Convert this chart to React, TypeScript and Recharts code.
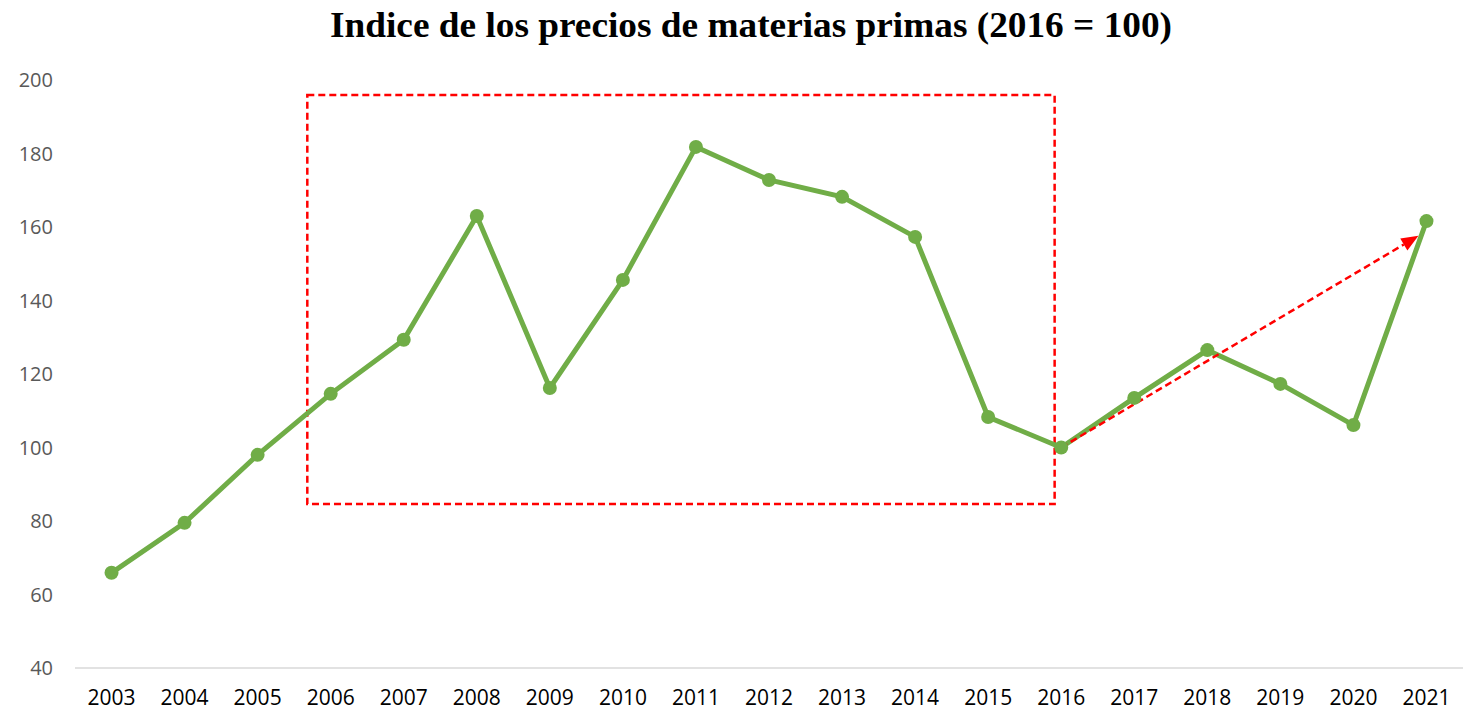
import React from 'react';
import { LineChart, Line, XAxis, YAxis, ReferenceArea, ReferenceLine } from 'recharts';

const years = [2003, 2004, 2005, 2006, 2007, 2008, 2009, 2010, 2011, 2012, 2013, 2014, 2015, 2016, 2017, 2018, 2019, 2020, 2021];
const indexValues = [65.9, 79.5, 98, 114.6, 129.3, 163, 116.2, 145.6, 181.8, 172.8, 168.2, 157.3, 108.3, 100, 113.5, 126.5, 117.3, 106.1, 161.6];
const yTicks = [40, 60, 80, 100, 120, 140, 160, 180, 200];
const boxX = [2005.68, 2015.91];
const boxY = [84.6, 195.9];
const arrowX = [2016, 2020.89];
const arrowY = [100, 157.6];

const title = 'Indice de los precios de materias primas (2016 = 100)';

const data = years.map((y, i) => ({ year: y, value: indexValues[i] }));

const ArrowShape = (props: any) => {
  const { x1, y1, x2, y2 } = props;
  if ([x1, y1, x2, y2].some((v) => v == null || isNaN(v))) return null;
  const ang = Math.atan2(y2 - y1, x2 - x1);
  const len = 17;
  const half = 7;
  const bx = x2 - len * Math.cos(ang);
  const by = y2 - len * Math.sin(ang);
  const px = -Math.sin(ang) * half;
  const py = Math.cos(ang) * half;
  return (
    <g>
      <line x1={x1} y1={y1} x2={bx} y2={by} stroke="#FF0000" strokeWidth={2.5} strokeDasharray="7 4" />
      <polygon points={`${x2},${y2} ${bx + px},${by + py} ${bx - px},${by - py}`} fill="#FF0000" />
    </g>
  );
};

export default function App() {
  return (
    <div style={{ position: 'absolute', left: 0, top: 0, width: 1481, height: 711, background: '#fff' }}>
      <svg width={1481} height={60} style={{ position: 'absolute', left: 0, top: 0 }}>
        <text
          x={751}
          y={37}
          textAnchor="middle"
          textLength={842}
          lengthAdjust="spacingAndGlyphs"
          style={{ fontFamily: '"Liberation Serif", "Times New Roman", serif', fontWeight: 'bold', fontSize: 36, fill: '#000' }}
        >
          {title}
        </text>
      </svg>
      <LineChart
        width={1481}
        height={711}
        data={data}
        margin={{ top: 80, right: 18, bottom: 0, left: 0 }}
        style={{ position: 'absolute', left: 0, top: 0 }}
      >
        <XAxis
          dataKey="year"
          type="number"
          domain={[2002.5, 2021.5]}
          allowDataOverflow={true}
          ticks={years}
          height={43}
          tickSize={0}
          tickMargin={22}
          axisLine={{ stroke: '#D9D9D9', strokeWidth: 1.5 }}
          tick={{ fill: '#000', fontSize: 21, fontFamily: '"Open Sans", sans-serif' }}
          interval={0}
        />
        <YAxis
          domain={[40, 200]}
          allowDataOverflow={true}
          ticks={yTicks}
          width={75}
          axisLine={false}
          tickLine={false}
          tickSize={0}
          tickMargin={22}
          tick={{ fill: '#595959', fontSize: 20, fontFamily: '"Open Sans", sans-serif' }}
        />
        <ReferenceArea
          x1={boxX[0]}
          x2={boxX[1]}
          y1={boxY[0]}
          y2={boxY[1]}
          fill="none"
          fillOpacity={0}
          stroke="#FF0000"
          strokeWidth={2.5}
          strokeDasharray="7 4"
          ifOverflow="visible"
        />
        <Line
          dataKey="value"
          stroke="#70AD47"
          strokeWidth={5}
          dot={{ r: 7, fill: '#70AD47', stroke: '#70AD47', strokeWidth: 0 }}
          activeDot={false}
          isAnimationActive={false}
        />
        <ReferenceLine
          segment={[{ x: arrowX[0], y: arrowY[0] }, { x: arrowX[1], y: arrowY[1] }]}
          shape={ArrowShape}
          ifOverflow="visible"
        />
      </LineChart>
    </div>
  );
}
